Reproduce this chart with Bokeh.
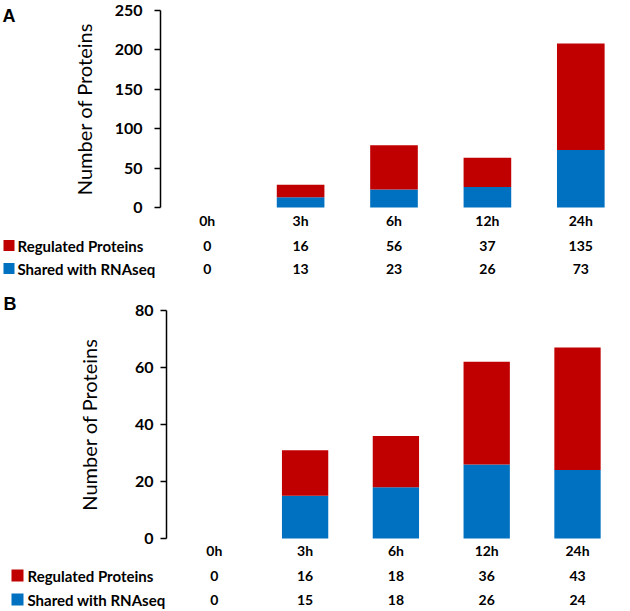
from bokeh.plotting import figure
from bokeh.models import Range1d, FixedTicker, LinearAxis, ColumnDataSource
from bokeh.core.properties import value
from bokeh.layouts import column
from bokeh.embed import file_html
from bokeh.resources import INLINE

categories = ["0h", "3h", "6h", "12h", "24h"]
a_regulated = [0, 16, 56, 37, 135]
a_shared = [0, 13, 23, 26, 73]
b_regulated = [0, 16, 18, 36, 43]
b_shared = [0, 15, 18, 26, 24]
a_yticks = [0, 50, 100, 150, 200, 250]
b_yticks = [0, 20, 40, 60, 80]
series_names = ["Regulated Proteins", "Shared with RNAseq"]
y_title = "Number of Proteins"

RED = "#C00000"
BLUE = "#0070C0"
FONT = "Lato"


def panel(letter, regulated, shared, yticks, L):
    W, H = 630, L["height"]
    n = len(categories)
    sx, cx0 = L["slot"], L["cx0"]          # px per category slot, px of first category
    ymax = yticks[-1]
    sy = (L["zero_px"] - L["top_px"]) / ymax  # px per y unit

    def dx(px):  # canvas px -> data x
        return (px - cx0) / sx

    def dy(px):  # canvas px (from top) -> data y
        return (L["zero_px"] - px) / sy

    p = figure(x_range=Range1d(dx(0), dx(W)), y_range=Range1d(dy(H), dy(0)),
               width=W, height=H, output_backend="svg", toolbar_location=None,
               min_border=0, x_axis_location=None, y_axis_location=None)
    p.outline_line_color = None
    p.grid.visible = False

    src = ColumnDataSource(dict(idx=list(range(n)), cat=categories,
                                shared=shared, regulated=regulated,
                                shared_txt=[str(v) for v in shared],
                                regulated_txt=[str(v) for v in regulated]))
    p.vbar_stack(["shared", "regulated"], x="idx", width=0.51, color=[BLUE, RED],
                 line_color=None, source=src)

    # y axis, drawn at a fixed position inside the canvas
    ya = LinearAxis(fixed_location=dx(L["axis_px"]), bounds=(0, ymax),
                    ticker=FixedTicker(ticks=yticks))
    ya.major_tick_out = 6
    ya.major_tick_in = 0
    ya.minor_tick_line_color = None
    ya.axis_line_width = 1.5
    ya.major_tick_line_width = 1.5
    ya.axis_line_color = "black"
    ya.major_tick_line_color = "black"
    ya.major_label_text_font = FONT
    ya.major_label_text_font_style = "bold"
    ya.major_label_text_font_size = "16px"
    ya.major_label_text_color = "black"
    ya.major_label_standoff = L["tick_standoff"]
    ya.axis_label = y_title
    ya.axis_label_text_font = FONT
    ya.axis_label_text_font_style = "normal"
    ya.axis_label_text_font_size = "20px"
    ya.axis_label_text_color = "black"
    ya.axis_label_standoff = L["title_standoff"]
    p.add_layout(ya, "left")

    txt = dict(text_font=value(FONT), text_font_style="bold", text_font_size="14px",
               text_color="black", text_baseline="middle")
    name_txt = dict(txt, text_font_size="15px")

    # category row and table rows
    p.text(x="idx", y=dy(L["cat_px"]), text="cat", source=src, text_align="center", **txt)
    rows = ((series_names[0], RED, "regulated_txt", L["row1_px"]),
            (series_names[1], BLUE, "shared_txt", L["row2_px"]))
    for name, color, col, row_px in rows:
        y = dy(row_px)
        p.text(x="idx", y=y, text=col, source=src, text_align="center", **txt)
        p.scatter(x=[dx(L["key_px"])], y=[y], marker="square", size=L["key_size"],
                  fill_color=color, line_color=None)
        p.text(x=[dx(L["name_px"])], y=[y], text=[name], text_align="left", **name_txt)

    p.text(x=[dx(L["letter_px"])], y=[dy(L["letter_base_px"])], text=[letter],
           text_font=value("Liberation Sans"), text_font_style="bold",
           text_font_size="18px", text_color="black", text_baseline="alphabetic",
           text_align="left")
    return p


lay_a = dict(height=288, slot=93.4, cx0=206.7, top_px=10, zero_px=207, axis_px=160,
             tick_standoff=12, title_standoff=16, cat_px=220, row1_px=245, row2_px=268,
             key_px=8.5, key_size=11, name_px=17, letter_px=2, letter_base_px=15)
lay_b = dict(height=323, slot=90.8, cx0=213.8, top_px=22, zero_px=250, axis_px=166,
             tick_standoff=7, title_standoff=31, cat_px=262, row1_px=287, row2_px=311,
             key_px=17, key_size=12, name_px=27, letter_px=3, letter_base_px=15)

pa = panel("A", a_regulated, a_shared, a_yticks, lay_a)
pb = panel("B", b_regulated, b_shared, b_yticks, lay_b)

layout = column(pa, pb, spacing=0)
open("out.html", "w").write(file_html(layout, INLINE))
